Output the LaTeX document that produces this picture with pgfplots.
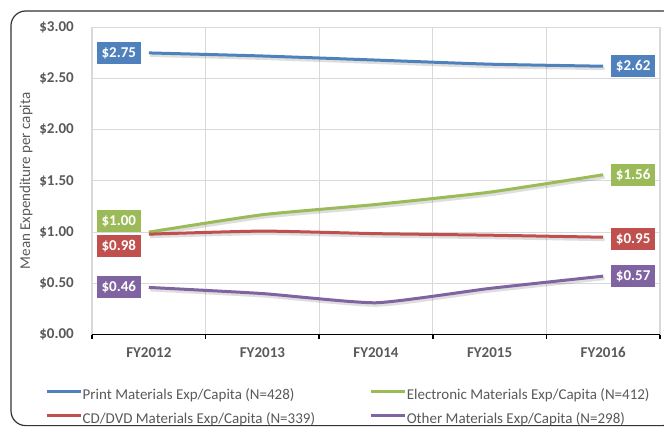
\documentclass[border=0pt]{standalone}
\usepackage{pgfplots}
\pgfplotsset{compat=1.18}
\usepackage{fontspec}
\setmainfont{Carlito}
\definecolor{cBlue}{HTML}{4F81BD}
\definecolor{cRed}{HTML}{C0504D}
\definecolor{cGreen}{HTML}{9BBB59}
\definecolor{cPurple}{HTML}{8064A2}
\definecolor{txtgray}{HTML}{595959}
\definecolor{gridgray}{HTML}{D9D9D9}
\begin{document}
\begin{tikzpicture}
\path[use as bounding box] (0,0) rectangle (498pt,-319.5pt);
\draw[black!80, line width=0.9pt, rounded corners=11pt] (8.25pt,-8.25pt) rectangle (508pt,-319.2pt);
\begin{axis}[
  at={(69pt,-250.875pt)}, anchor=south west,
  scale only axis, width=426pt, height=230.4pt,
  xmin=-0.5, xmax=4.5, ymin=0, ymax=3,
  axis x line*=bottom, axis y line*=left,
  x axis line style={-, black, line width=1.3pt},
  y axis line style={draw=none},
  xtick={0,1,2,3,4},
  xticklabels={FY2012,FY2013,FY2014,FY2015,FY2016},
  minor xtick={-0.5,0.5,1.5,2.5,3.5,4.5},
  ytick={0,0.5,1,1.5,2,2.5,3},
  yticklabel={\$\pgfmathprintnumber[fixed,fixed zerofill,precision=2]{\tick}},
  /pgf/number format/assume math mode=true,
  tick align=outside, major tick length=0pt, minor tick length=3.5pt,
  minor tick style={black, line width=1.1pt},
  ymajorgrids, xminorgrids,
  major grid style={gridgray, line width=0.8pt},
  minor grid style={gridgray, line width=0.8pt},
  tick label style={font=\fontsize{11.25}{13}\selectfont\bfseries, text=txtgray},
  yticklabel style={inner sep=0pt, xshift=-13.5pt},
  xticklabel style={inner sep=0pt, yshift=-9.4pt},
  ylabel={Mean Expenditure per capita},
  every axis y label/.style={at={(axis description cs:-0.1162,0.5)}, rotate=90, anchor=center, font=\fontsize{11.25}{13}\selectfont, text=txtgray},
  legend columns=2,
  legend cell align=left,
  legend style={at={(axis description cs:-0.0827,-0.174)}, anchor=north west, draw=none, fill=none, inner sep=0pt, outer sep=0pt,
    font=\fontsize{11.25}{13}\selectfont, text=txtgray,
    nodes={inner sep=0.5pt, text height=8pt, text depth=2.5pt},
    row sep=6.5pt,
    /tikz/column 2/.style={column sep=40pt}},
  legend image code/.code={\draw[#1, line width=2.25pt] (0pt,2.75pt) -- (25.5pt,2.75pt);},
  clip=false,
]
% shadows
\addplot[forget plot, black, opacity=0.13, line width=2.4pt, smooth, tension=0.3, xshift=1pt, yshift=-1.8pt] coordinates {(0,2.75) (1,2.72) (2,2.68) (3,2.64) (4,2.62)};
\addplot[forget plot, black, opacity=0.13, line width=2.4pt, smooth, tension=0.3, xshift=1pt, yshift=-1.8pt] coordinates {(0,1.00) (1,1.17) (2,1.27) (3,1.39) (4,1.56)};
\addplot[forget plot, black, opacity=0.13, line width=2.4pt, smooth, tension=0.3, xshift=1pt, yshift=-1.8pt] coordinates {(0,0.98) (1,1.01) (2,0.985) (3,0.97) (4,0.95)};
\addplot[forget plot, black, opacity=0.13, line width=2.4pt, smooth, tension=0.3, xshift=1pt, yshift=-1.8pt] coordinates {(0,0.46) (1,0.40) (2,0.31) (3,0.45) (4,0.57)};
% series
\addplot[cBlue, line width=2.25pt, smooth, tension=0.3] coordinates {(0,2.75) (1,2.72) (2,2.68) (3,2.64) (4,2.62)}
  node[pos=0, fill=cBlue, text=white, font=\fontsize{11.25}{13}\selectfont\bfseries, minimum width=33pt, minimum height=16.5pt, inner sep=1pt, xshift=-22.5pt] {\$2.75}
  node[pos=1, fill=cBlue, text=white, font=\fontsize{11.25}{13}\selectfont\bfseries, minimum width=33pt, minimum height=16.5pt, inner sep=1pt, xshift=22.5pt] {\$2.62};
\addlegendentry{Print Materials Exp/Capita (N=428)}
\addplot[cGreen, line width=2.25pt, smooth, tension=0.3] coordinates {(0,1.00) (1,1.17) (2,1.27) (3,1.39) (4,1.56)}
  node[pos=0, fill=cGreen, text=white, font=\fontsize{11.25}{13}\selectfont\bfseries, minimum width=33pt, minimum height=16.5pt, inner sep=1pt, xshift=-22.5pt, yshift=8.25pt] {\$1.00}
  node[pos=1, fill=cGreen, text=white, font=\fontsize{11.25}{13}\selectfont\bfseries, minimum width=33pt, minimum height=16.5pt, inner sep=1pt, xshift=22.5pt] {\$1.56};
\addlegendentry{Electronic Materials Exp/Capita (N=412)}
\addplot[cRed, line width=2.25pt, smooth, tension=0.3] coordinates {(0,0.98) (1,1.01) (2,0.985) (3,0.97) (4,0.95)}
  node[pos=0, fill=cRed, text=white, font=\fontsize{11.25}{13}\selectfont\bfseries, minimum width=33pt, minimum height=16.5pt, inner sep=1pt, xshift=-22.5pt, yshift=-8.6pt] {\$0.98}
  node[pos=1, fill=cRed, text=white, font=\fontsize{11.25}{13}\selectfont\bfseries, minimum width=33pt, minimum height=16.5pt, inner sep=1pt, xshift=22.5pt, yshift=-1.5pt] {\$0.95};
\addlegendentry{CD/DVD Materials Exp/Capita (N=339)}
\addplot[cPurple, line width=2.25pt, smooth, tension=0.3] coordinates {(0,0.46) (1,0.40) (2,0.31) (3,0.45) (4,0.57)}
  node[pos=0, fill=cPurple, text=white, font=\fontsize{11.25}{13}\selectfont\bfseries, minimum width=33pt, minimum height=16.5pt, inner sep=1pt, xshift=-22.5pt] {\$0.46}
  node[pos=1, fill=cPurple, text=white, font=\fontsize{11.25}{13}\selectfont\bfseries, minimum width=33pt, minimum height=16.5pt, inner sep=1pt, xshift=22.5pt] {\$0.57};
\addlegendentry{Other Materials Exp/Capita (N=298)}
\end{axis}
\end{tikzpicture}
\end{document}
